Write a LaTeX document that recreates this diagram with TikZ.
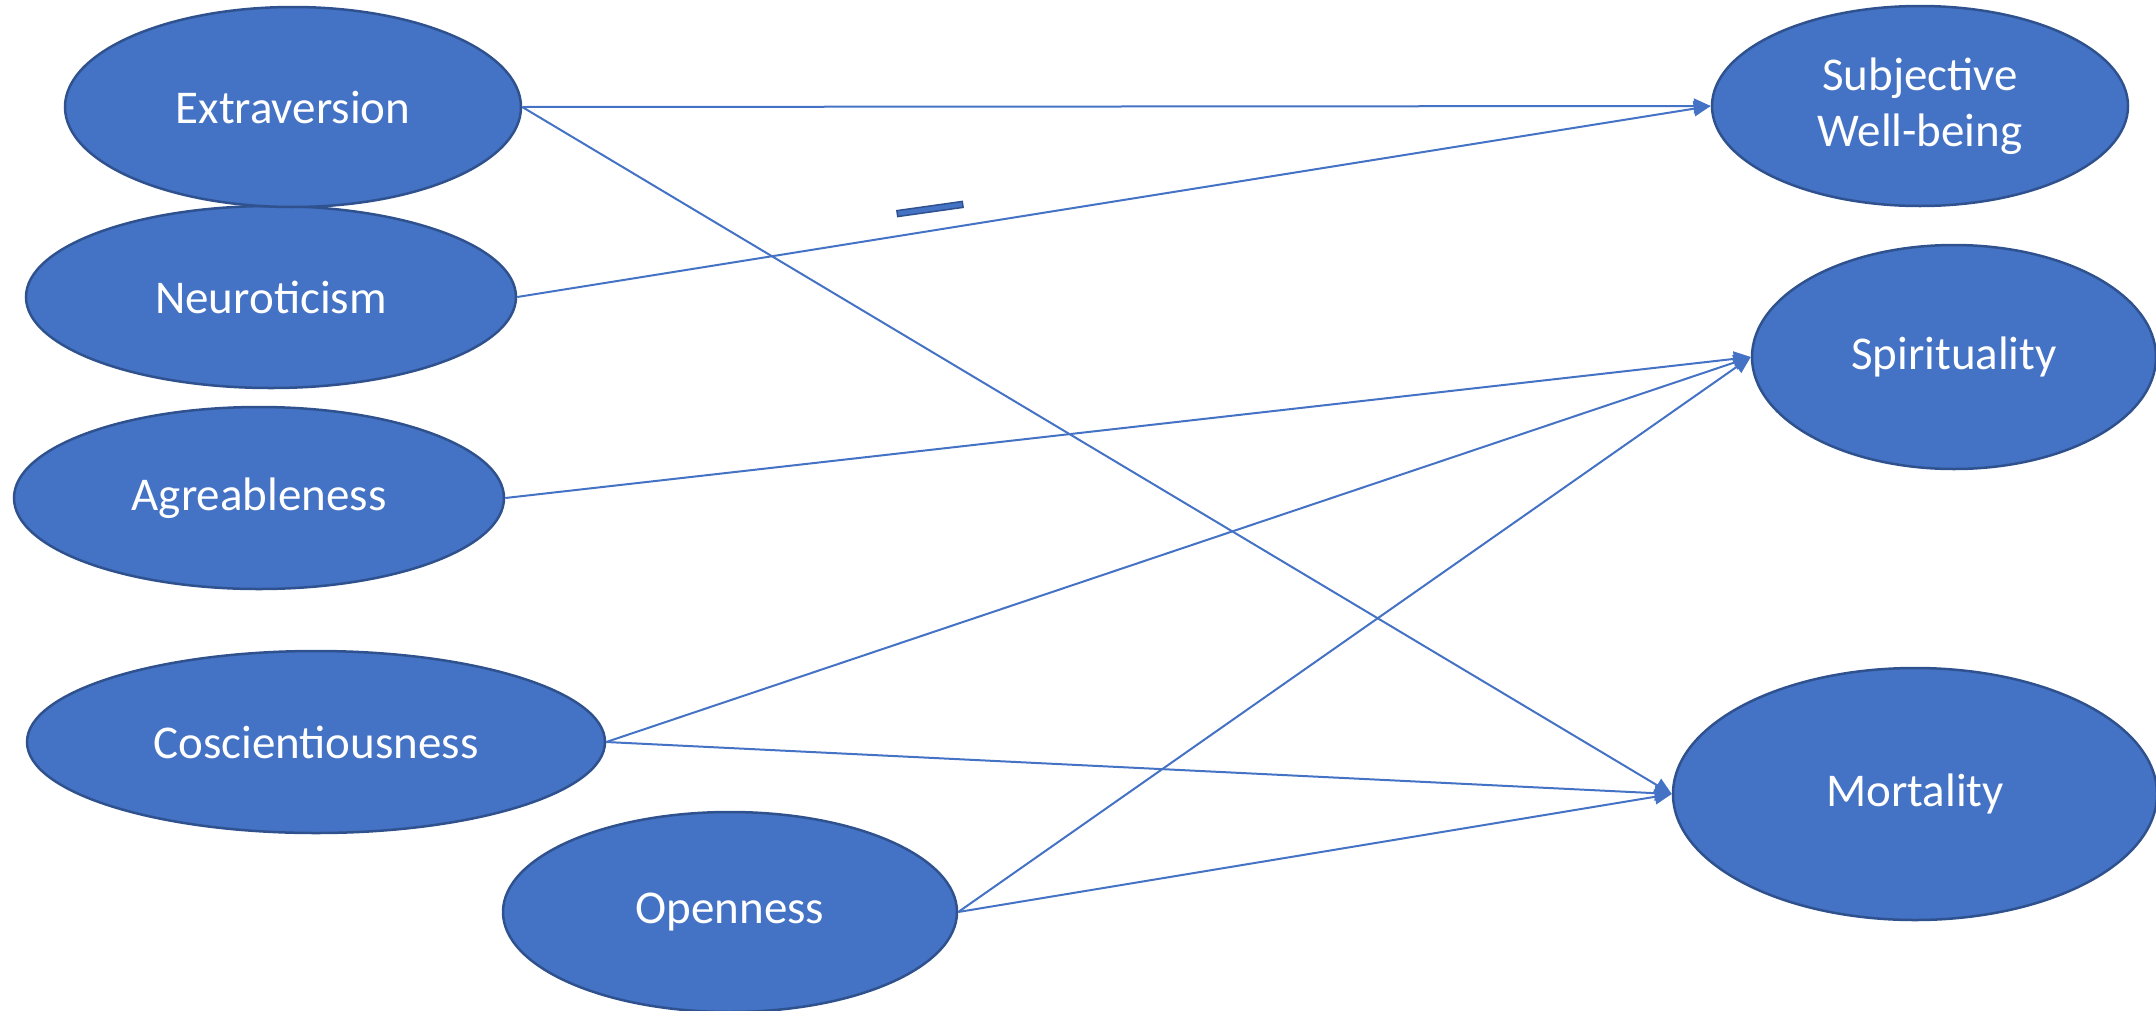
\documentclass[tikz,border=0pt]{standalone}
\usepackage{fontspec}
\setmainfont{Carlito}
\usetikzlibrary{shapes.geometric,arrows.meta}
\definecolor{fillblue}{HTML}{4472C4}
\definecolor{edgeblue}{HTML}{2F528F}
\tikzset{
  oval/.style={ellipse, draw=edgeblue, line width=2.5pt, fill=fillblue, inner sep=0pt,
    text=white, font=\fontsize{47}{56}\selectfont, align=center},
  link/.style={draw=fillblue, line width=2pt, -{Triangle[length=17pt,width=15pt]}},
}
\begin{document}
\begin{tikzpicture}[x=1pt,y=-1pt]
\useasboundingbox (0,0) rectangle (2156,1010);
\node[oval, minimum width=490pt, minimum height=182pt] (neu) at (271,297) {Neuroticism};
\node[oval, minimum width=456pt, minimum height=200pt] (ext) at (293,107) {Extraversion};
\node[oval, minimum width=490pt, minimum height=182pt] (agr) at (259,498) {Agreableness};
\node[oval, minimum width=578pt, minimum height=182pt] (cos) at (316,742) {Coscientiousness};
\node[oval, minimum width=454pt, minimum height=200pt] (ope) at (730,912) {Openness};
\node[oval, minimum width=416pt, minimum height=200pt] (swb) at (1920,106) {Subjective\\Well-being};
\node[oval, minimum width=404pt, minimum height=224pt] (spi) at (1954,357) {Spirituality};
\node[oval, minimum width=484pt, minimum height=252pt] (mor) at (1915,794) {Mortality};
\draw[link] (ext.east) -- (swb.west);
\draw[link] (neu.east) -- (swb.west);
\draw[link] (ext.east) -- (mor.west);
\draw[link] (agr.east) -- (spi.west);
\draw[link] (cos.east) -- (spi.west);
\draw[link] (cos.east) -- (mor.west);
\draw[link] (ope.east) -- (spi.west);
\draw[link] (ope.east) -- (mor.west);
\node[draw=edgeblue, fill=fillblue, line width=1.5pt, minimum width=66pt, minimum height=6pt, inner sep=0pt, rotate=8] (minus) at (930,209) {};
\end{tikzpicture}
\end{document}
